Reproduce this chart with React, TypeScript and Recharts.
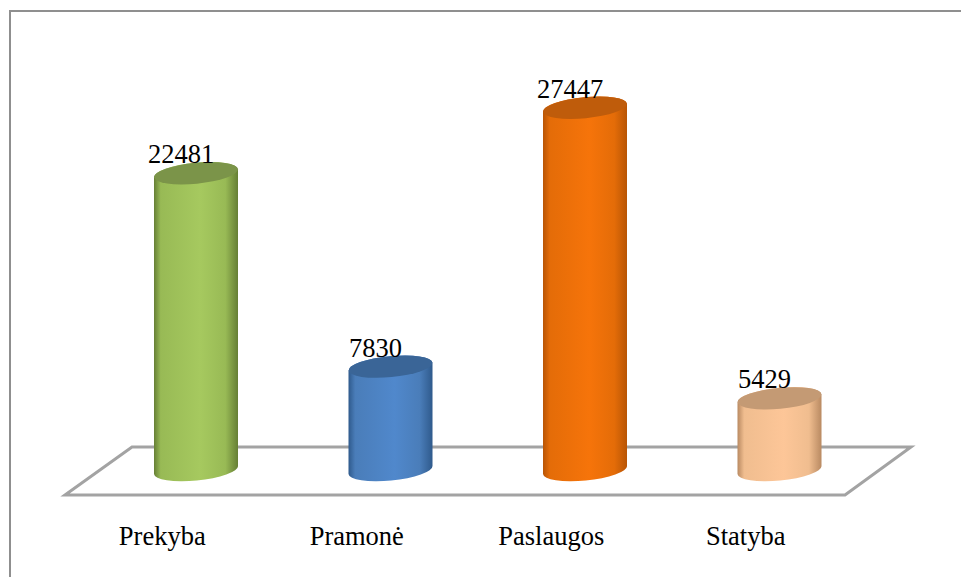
import { Bar, BarChart, LabelList, XAxis, YAxis, Customized } from "recharts"

const categories = ["Prekyba", "Pramonė", "Paslaugos", "Statyba"]
const values = [22481, 7830, 27447, 5429]

const data = categories.map((name, i) => ({ name, total: values[i] }))

// edge, shoulder, middle, lid
const shades = [
  ["#667f35", "#98ba55", "#a6c95f", "#7b9449"],
  ["#2f5a8c", "#4a7db9", "#5088cc", "#3a6597"],
  ["#b85505", "#e46c08", "#f6740a", "#bf5c0b"],
  ["#b98a62", "#f0bd8f", "#fdc698", "#c49a74"],
]

const FONT = "'Liberation Serif', 'Times New Roman', serif"

function Cylinder(props: any) {
  const { x, y, width, height, index } = props
  const [edge, shoulder, mid, lid] = shades[index]
  const cx = x + width / 2
  const rx = width / 2
  const ry = 10.5
  const tilt = 4
  const base = y + height
  const id = `cyl-${index}`
  const body = [
    `M ${x} ${y + tilt}`,
    `L ${x} ${base + tilt}`,
    `A ${rx} ${ry} -5.5 0 0 ${x + width} ${base - tilt}`,
    `L ${x + width} ${y - tilt}`,
    `A ${rx} ${ry} -5.5 0 0 ${x} ${y + tilt}`,
    "Z",
  ].join(" ")
  return (
    <g>
      <defs>
        <linearGradient id={id} x1="0" y1="0" x2="1" y2="0">
          <stop offset="0" stopColor={edge} />
          <stop offset="0.08" stopColor={shoulder} />
          <stop offset="0.55" stopColor={mid} />
          <stop offset="0.85" stopColor={shoulder} />
          <stop offset="1" stopColor={edge} />
        </linearGradient>
      </defs>
      <path d={body} fill={`url(#${id})`} />
      <ellipse cx={cx} cy={y} rx={rx} ry={ry} fill={lid} transform={`rotate(-5.5 ${cx} ${y})`} />
    </g>
  )
}

function ValueLabel(props: any) {
  const { x, y, width, value } = props
  return (
    <text x={x + width / 2 - 15} y={y - 10} textAnchor="middle" fontFamily={FONT} fontSize={26.5} fill="#000">
      {value}
    </text>
  )
}

function Backdrop() {
  return (
    <g fill="none" stroke="#a3a3a3">
      <path d="M 10 577 L 10 11 L 961 11" stroke="#8f8f8f" strokeWidth={2} />
      <polygon points="65,495 132,447 911,447 845,495" strokeWidth={3} />
    </g>
  )
}

export default function App() {
  return (
    <div style={{ position: "absolute", left: 0, top: 0, width: 961, height: 577, background: "#fff" }}>
      <BarChart
        width={961}
        height={577}
        data={data}
        barSize={84}
        margin={{ top: 74, right: 84, bottom: 0, left: 99 }}
      >
        <Customized component={Backdrop} />
        <XAxis
          dataKey="name"
          axisLine={false}
          tickLine={false}
          interval={0}
          height={107}
          tickMargin={50}
          tick={{ fontFamily: FONT, fontSize: 26.5, fill: "#000", dx: -34 }}
        />
        <YAxis hide domain={[0, 30000]} />
        <Bar dataKey="total" shape={Cylinder} isAnimationActive={false}>
          <LabelList dataKey="total" content={ValueLabel} />
        </Bar>
      </BarChart>
    </div>
  )
}
